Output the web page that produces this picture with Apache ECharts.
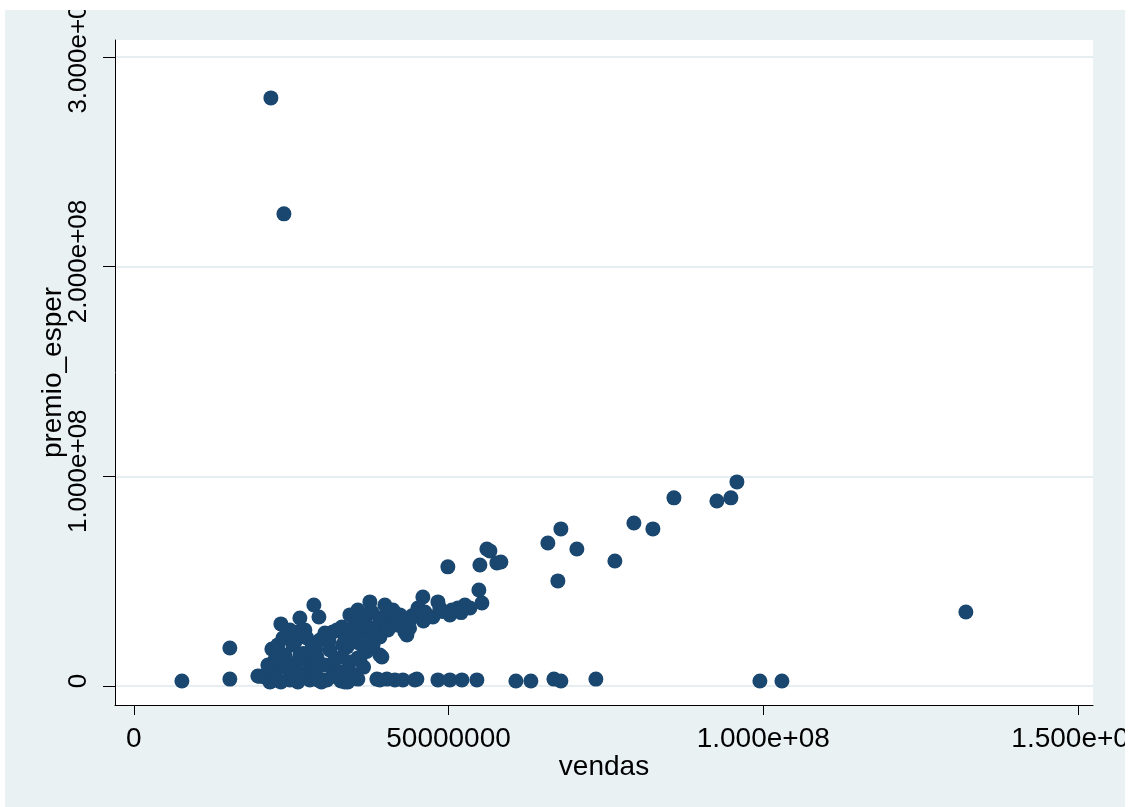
<!DOCTYPE html>
<html>
<head>
<meta charset="utf-8">
<script src="https://cdn.jsdelivr.net/npm/echarts@6/dist/echarts.min.js"></script>
<style>
  html, body { margin: 0; padding: 0; background: #fff; }
  #main { width: 1140px; height: 807px; }
</style>
</head>
<body>
<div id="main"></div>
<script>
// vendas (x) and premio_esper (y)
const vendas = [
  21.77e6, 23.84e6, 7.63e6, 15.25e6, 15.25e6, 23.36e6, 132.2e6, 99.47e6, 102.97e6,
  95.82e6, 94.86e6, 92.64e6, 85.81e6, 82.47e6, 79.45e6, 76.43e6, 70.39e6, 67.85e6,
  65.78e6, 67.37e6, 56.09e6, 56.57e6, 57.68e6, 58.32e6, 54.98e6, 49.89e6, 54.82e6, 55.3e6,
  60.7e6, 63.08e6, 66.74e6, 67.85e6, 73.41e6,
  45.92e6, 48.31e6, 51.48e6, 50.21e6, 45.13e6, 47.51e6, 43.06e6, 43.38e6, 41.47e6, 40.68e6,
  41.47e6, 42.74e6, 44.65e6, 48.31e6, 50.21e6, 52.12e6, 54.5e6, 35.59e6, 38.61e6, 40.2e6, 44.97e6,
  37.5e6, 35.59e6, 40.68e6, 45.45e6, 42.74e6, 39.57e6, 35.91e6, 35.91e6, 39.41e6, 33.85e6,
  33.85e6, 33.05e6, 33.21e6, 39.09e6,
  28.6e6, 29.4e6, 26.38e6, 41.16e6, 26.06e6, 25.27e6, 31.62e6, 33.05e6, 35.12e6, 39.09e6,
  41.79e6, 26.06e6, 30.03e6, 39.09e6, 39.09e6, 35.59e6, 27.97e6,
  20.5e6, 21.93e6, 22.88e6, 25.58e6, 27.49e6, 30.35e6, 32.26e6, 20.8e6, 22.72e6, 24.31e6,
  25.9e6, 27.49e6, 29.08e6, 31.14e6, 33.21e6, 24.79e6, 27.97e6, 30.67e6, 24.31e6,
  23.36e6, 21.93e6, 26.38e6, 28.6e6, 29.4e6, 31.62e6, 32.26e6, 34.5e6, 36.5e6, 37.0e6,
  34.8e6, 31.0e6, 28.9e6, 26.9e6, 36.8e6, 38.0e6, 42.2e6, 44.2e6, 46.0e6, 49.0e6,
  52.0e6, 43.8e6, 37.6e6, 36.0e6, 32.9e6, 20.0e6, 23.5e6, 22.0e6, 25.1e6, 29.8e6,
  34.0e6, 38.0e6,
  34.32e6, 36.71e6, 37.82e6, 39.88e6, 42.27e6, 43.86e6, 46.24e6, 48.62e6, 50.53e6, 52.6e6,
  53.4e6, 33.53e6, 35.12e6, 36.71e6, 37.82e6, 40.36e6, 29.56e6, 28.28e6, 26.38e6, 23.99e6,
  22.4e6, 21.29e6, 24.79e6, 26.38e6, 28.76e6, 30.35e6, 31.94e6, 32.73e6, 34.32e6, 35.12e6,
  29.24e6, 33.53e6, 21.61e6, 19.7e6, 27.17e6, 24.79e6, 23.68e6
]
const premio = [
  280.4e6, 225.1e6, 2.4e6, 3.3e6, 18.1e6, 29.6e6, 35.3e6, 2.4e6, 2.4e6,
  97.3e6, 89.7e6, 88.2e6, 89.7e6, 74.9e6, 77.7e6, 59.6e6, 65.3e6, 74.9e6,
  68.2e6, 50.1e6, 65.3e6, 64.4e6, 58.7e6, 59.1e6, 57.7e6, 56.8e6, 45.8e6, 39.6e6,
  2.4e6, 2.4e6, 3.3e6, 2.4e6, 3.3e6,
  42.4e6, 40.1e6, 37.2e6, 33.9e6, 37.2e6, 32.9e6, 25.8e6, 24.3e6, 34.8e6, 29.1e6,
  2.9e6, 2.9e6, 2.9e6, 2.9e6, 2.9e6, 2.9e6, 2.9e6, 3.3e6, 3.3e6, 3.3e6, 3.3e6,
  40.1e6, 36.2e6, 34.8e6, 36.2e6, 28.1e6, 30.0e6, 23.4e6, 12.4e6, 13.8e6, 18.6e6,
  7.6e6, 13.8e6, 25.8e6, 23.4e6,
  38.6e6, 32.9e6, 32.4e6, 36.2e6, 25.8e6, 19.6e6, 25.8e6, 28.1e6, 30.0e6, 32.4e6,
  29.1e6, 1.9e6, 2.9e6, 2.9e6, 14.8e6, 13.4e6, 8.6e6,
  4.8e6, 17.6e6, 19.6e6, 21.0e6, 22.9e6, 25.3e6, 26.7e6, 4.3e6, 7.6e6, 10.0e6,
  11.4e6, 12.4e6, 13.8e6, 17.2e6, 19.6e6, 2.9e6, 2.9e6, 2.9e6, 9.1e6,
  1.9e6, 2.4e6, 5.8e6, 6.2e6, 9.5e6, 8.0e6, 4.3e6, 6.0e6, 9.0e6, 16.5e6,
  21.0e6, 21.5e6, 17.5e6, 15.5e6, 28.5e6, 26.0e6, 31.5e6, 33.5e6, 31.0e6, 35.5e6,
  35.0e6, 27.5e6, 35.0e6, 20.0e6, 2.4e6, 4.6e6, 12.0e6, 4.0e6, 7.5e6, 1.9e6,
  1.9e6, 19.5e6,
  33.9e6, 31.5e6, 35.3e6, 38.6e6, 33.9e6, 31.5e6, 35.3e6, 37.2e6, 36.2e6, 38.6e6,
  37.2e6, 21.9e6, 25.8e6, 21.9e6, 27.7e6, 26.7e6, 21.9e6, 18.1e6, 14.8e6, 14.8e6,
  12.4e6, 10.0e6, 6.7e6, 4.8e6, 6.7e6, 10.0e6, 12.4e6, 6.7e6, 11.4e6, 5.2e6,
  2.9e6, 1.9e6, 1.9e6, 4.8e6, 26.7e6, 26.7e6, 22.9e6
]

const xTickValues = [0, 5e7, 1e8, 1.5e8]
const xTickLabels = ['0', '50000000', '1.000e+08', '1.500e+08']
const yTickValues = [0, 1e8, 2e8, 3e8]
const yTickLabels = ['0', '1.000e+08', '2.000e+08', '3.000e+08']

const FONT = '"Liberation Sans", Arial, sans-serif'
const chart = echarts.init(document.getElementById('main'), null, { renderer: 'canvas' })

chart.setOption({
  backgroundColor: '#e9f1f3',
  animation: false,
  textStyle: { fontFamily: FONT },
  grid: {
    left: 115, right: 47, top: 40, bottom: 102,
    outerBoundsMode: 'none',
    show: true, backgroundColor: '#ffffff', borderWidth: 0,
  },
  xAxis: {
    type: 'value',
    min: -3e6, max: 152.4e6,
    name: 'vendas', nameLocation: 'middle', nameGap: 48, nameMoveOverlap: false,
    nameTextStyle: { color: '#000', fontSize: 28, fontFamily: FONT },
    axisLine: { show: true, onZero: false, lineStyle: { color: '#000', width: 1 } },
    axisTick: { show: true, length: 10, customValues: xTickValues, lineStyle: { color: '#000' } },
    axisLabel: {
      customValues: xTickValues, margin: 20, color: '#000', fontSize: 28, fontFamily: FONT,
      formatter: v => xTickLabels[xTickValues.indexOf(v)],
    },
    splitLine: { show: false },
  },
  yAxis: {
    type: 'value',
    min: -9.06e6, max: 308e6,
    name: 'premio_esper', nameLocation: 'middle', nameGap: 48, nameRotate: 90, nameMoveOverlap: false,
    nameTextStyle: { color: '#000', fontSize: 28, fontFamily: FONT },
    axisLine: { show: true, onZero: false, lineStyle: { color: '#000', width: 1 } },
    axisTick: { show: true, length: 12, customValues: yTickValues, lineStyle: { color: '#000' } },
    axisLabel: {
      customValues: yTickValues, rotate: 90, margin: 23, color: '#000', fontSize: 26, fontFamily: FONT,
      padding: [0, 0, 0, 10],
      formatter: v => yTickLabels[yTickValues.indexOf(v)],
    },
    splitLine: { show: true, lineStyle: { color: '#e6eef1', width: 2 } },
  },
  graphic: [
    // white page margins that clip the outer labels as in the original
    { type: 'rect', z: 100, shape: { x: 0, y: 0, width: 1140, height: 10 }, style: { fill: '#fff' } },
    { type: 'rect', z: 100, shape: { x: 0, y: 0, width: 5, height: 807 }, style: { fill: '#fff' } },
    { type: 'rect', z: 100, shape: { x: 1125, y: 0, width: 15, height: 807 }, style: { fill: '#fff' } },
  ],
  series: [{
    type: 'scatter',
    data: vendas.map((v, i) => [v, premio[i]]),
    symbol: 'circle',
    symbolSize: 15,
    itemStyle: { color: '#1a476f', opacity: 1 },
  }],
})
</script>
</body>
</html>
